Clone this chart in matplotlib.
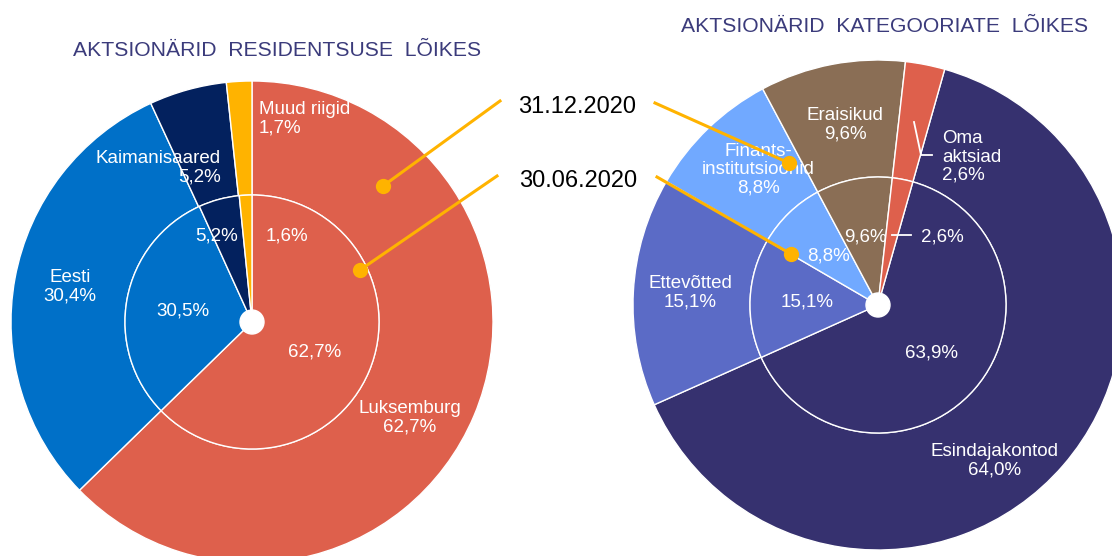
import matplotlib
matplotlib.use("Agg")
import matplotlib.pyplot as plt
from matplotlib.patches import Circle

plt.rcParams['font.family'] = ['Liberation Sans', 'DejaVu Sans']

# residentsus
res_names = ["Luksemburg", "Eesti", "Kaimanisaared", "Muud riigid"]
res_dec = [62.7, 30.4, 5.2, 1.7]     # 31.12.2020
res_jun = [62.7, 30.5, 5.2, 1.6]     # 30.06.2020
res_colors = ["#DE604C", "#0070C8", "#03215E", "#FFB300"]

# kategooriad
cat_names = ["Esindajakontod", "Ettevõtted", "Finants-\ninstitutsioonid", "Eraisikud", "Oma\naktsiad"]
cat_dec = [64.0, 15.1, 8.8, 9.6, 2.6]
cat_jun = [63.9, 15.1, 8.8, 9.6, 2.6]
cat_colors = ["#36316F", "#5B6BC6", "#71A9FF", "#8A6E55", "#DE604C"]

W, H = 1112, 556
title_col = "#3B3B7B"
gold = "#FFB300"

fig = plt.figure(figsize=(W / 100, H / 100), dpi=100)
ax = fig.add_axes([0, 0, 1, 1])
ax.set_xlim(0, W)
ax.set_ylim(0, H)
ax.set_aspect('equal')
ax.axis('off')


def Y(y):
    # picture rows -> axes y
    return H - y


def fmt(v):
    return ("%.1f%%" % v).replace(".", ",")


def double_pie(cx, cy, R, r, outer, inner, colors, start):
    c = (cx, Y(cy))
    ax.pie(outer, colors=colors, radius=R, center=c, startangle=start,
           counterclock=False, normalize=True,
           wedgeprops=dict(width=R - r, edgecolor="white", linewidth=1.0))
    ax.pie(inner, colors=colors, radius=r, center=c, startangle=start,
           counterclock=False, normalize=True,
           wedgeprops=dict(edgecolor="white", linewidth=1.0))
    ax.add_patch(Circle(c, 12, color="white", zorder=5))


double_pie(252, 322, 241, 127, res_dec, res_jun, res_colors, 90)
double_pie(878, 305, 245, 128, cat_dec, cat_jun, cat_colors, 90 - 15.8)
ax.set_xlim(0, W)
ax.set_ylim(0, H)

lab = dict(color="white", fontsize=13.5, linespacing=1.1, zorder=6)

# vasak, välimine
ax.text(410, Y(418), res_names[0] + "\n" + fmt(res_dec[0]), ha="center", va="center", **lab)
ax.text(70, Y(287), res_names[1] + "\n" + fmt(res_dec[1]), ha="center", va="center", **lab)
ax.text(221, Y(168), res_names[2] + "\n" + fmt(res_dec[2]), ha="right", va="center", multialignment="right", **lab)
ax.text(259, Y(119), res_names[3] + "\n" + fmt(res_dec[3]), ha="left", va="center", **lab)
# vasak, sisemine
ax.text(315, Y(352), fmt(res_jun[0]), ha="center", va="center", **lab)
ax.text(183, Y(311), fmt(res_jun[1]), ha="center", va="center", **lab)
ax.text(217, Y(236), fmt(res_jun[2]), ha="center", va="center", **lab)
ax.text(287, Y(236), fmt(res_jun[3]), ha="center", va="center", **lab)

# parem, välimine
ax.text(995, Y(461), cat_names[0] + "\n" + fmt(cat_dec[0]), ha="center", va="center", **lab)
ax.text(690, Y(293), cat_names[1] + "\n" + fmt(cat_dec[1]), ha="center", va="center", **lab)
ax.text(758, Y(170), cat_names[2] + "\n" + fmt(cat_dec[2]), ha="center", va="center", **lab)
ax.text(845, Y(125), cat_names[3] + "\n" + fmt(cat_dec[3]), ha="center", va="center", **lab)
ax.text(942, Y(157), cat_names[4] + "\n" + fmt(cat_dec[4]), ha="left", va="center", **lab)
ax.plot([914, 921, 932], [Y(122), Y(155), Y(155)], color="white", lw=1.3, zorder=6)
# parem, sisemine
ax.text(931, Y(353), fmt(cat_jun[0]), ha="center", va="center", **lab)
ax.text(807, Y(302), fmt(cat_jun[1]), ha="center", va="center", **lab)
ax.text(828, Y(256), fmt(cat_jun[2]), ha="center", va="center", **lab)
ax.text(865, Y(237), fmt(cat_jun[3]), ha="center", va="center", **lab)
ax.text(942, Y(237), fmt(cat_jun[4]), ha="center", va="center", **lab)
ax.plot([892, 911], [Y(235), Y(235)], color="white", lw=1.3, zorder=6)

# pealkirjad
ax.text(277, Y(50), "AKTSIONÄRID  RESIDENTSUSE  LÕIKES", ha="center", va="center",
        color=title_col, fontsize=15.2)
ax.text(885, Y(26), "AKTSIONÄRID  KATEGOORIATE  LÕIKES", ha="center", va="center",
        color=title_col, fontsize=15.2)

# kuupäevad ja viigid
ax.text(577, Y(107), "31.12.2020", ha="center", va="center", color="black", fontsize=17)
ax.text(578, Y(181), "30.06.2020", ha="center", va="center", color="black", fontsize=17)
for (x0, y0, x1, y1) in [(500, 101, 383, 186), (497, 176, 360, 270),
                          (655, 103, 789, 163), (657, 177, 791, 254)]:
    ax.plot([x0, x1], [Y(y0), Y(y1)], color=gold, lw=2.2, zorder=7)
    ax.plot([x1], [Y(y1)], marker="o", ms=11, color=gold, mew=0, zorder=8)

fig.savefig("out.png", dpi=100)
